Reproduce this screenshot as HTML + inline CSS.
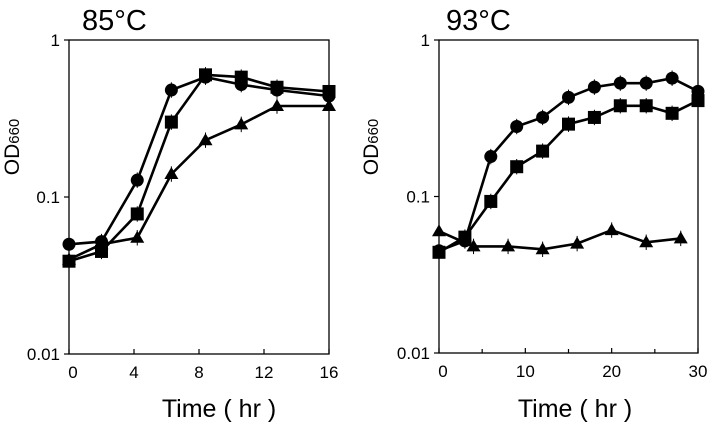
<!DOCTYPE html>
<html><head><meta charset="utf-8">
<style>
html,body{margin:0;padding:0;background:#fff;}
svg text{font-family:"Liberation Sans",Arial,sans-serif;fill:#000;}
</style></head>
<body>
<svg id="chart" width="708" height="429" xmlns="http://www.w3.org/2000/svg"></svg>
<script>
// Left panel (85°C) data
const leftTimes = [0, 2, 4.2, 6.3, 8.4, 10.6, 12.8, 16];
const leftCircle = [0.05, 0.052, 0.128, 0.48, 0.58, 0.52, 0.48, 0.44];
const leftSquare = [0.039, 0.045, 0.078, 0.30, 0.60, 0.58, 0.50, 0.47];
const leftTriangle = [0.04, 0.05, 0.055, 0.14, 0.23, 0.29, 0.38, 0.38];
const leftXTicks = [0, 4, 8, 12, 16];
// Right panel (93°C) data
const rightTimesA = [0, 3, 6, 9, 12, 15, 18, 21, 24, 27, 30];
const rightCircle = [0.045, 0.052, 0.18, 0.28, 0.32, 0.43, 0.50, 0.53, 0.53, 0.57, 0.47];
const rightSquare = [0.044, 0.055, 0.093, 0.155, 0.195, 0.29, 0.32, 0.38, 0.38, 0.34, 0.41];
const rightTimesT = [0, 4, 8, 12, 16, 20, 24, 28];
const rightTriangle = [0.06, 0.048, 0.048, 0.046, 0.05, 0.061, 0.051, 0.054];
const rightXTicks = [0, 10, 20, 30];
const yTicks = [1, 0.1, 0.01];
const yTickLabels = ["1", "0.1", "0.01"];

const NS = "http://www.w3.org/2000/svg";
const svg = document.getElementById("chart");
function mk(tag, attrs, parent) {
  const e = document.createElementNS(NS, tag);
  for (const k in attrs) e.setAttribute(k, attrs[k]);
  (parent || svg).appendChild(e);
  return e;
}

function panel(cfg) {
  const g = mk("g", {});
  
  
  const x = t => cfg.x0 + (t - cfg.xmin) / (cfg.xmax - cfg.xmin) * (cfg.x1 - cfg.x0);
  const y = v => cfg.y0 + (0 - Math.log10(v)) / 2 * (cfg.y1 - cfg.y0);
  const fr = mk("rect", {x: cfg.x0, y: cfg.y0, width: cfg.x1 - cfg.x0, height: cfg.y1 - cfg.y0, fill: "none", stroke: "#000", "stroke-width": 1.3}, g);
  
  
  yTicks.forEach((v, i) => {
    mk("line", {x1: cfg.x0 - 5, x2: cfg.x0, y1: y(v), y2: y(v), stroke: "#000", "stroke-width": 1.2}, g);
    const t = mk("text", {x: cfg.x0 - 9, y: y(v) + 6, "text-anchor": "end", "font-size": 17}, g);
    t.textContent = yTickLabels[i];
    
    
  });
  cfg.xticks.forEach(v => {
    mk("line", {x1: x(v), x2: x(v), y1: cfg.y1 - 5, y2: cfg.y1, stroke: "#000", "stroke-width": 1.2}, g);
    const t = mk("text", {x: x(v) + (v === cfg.xmin ? 4 : 0), y: cfg.y1 + 24, "text-anchor": "middle", "font-size": 17}, g);
    t.textContent = v;
    
    
  });
  (cfg.minor || []).forEach(v => {
    mk("line", {x1: x(v), x2: x(v), y1: cfg.y1 - 4, y2: cfg.y1, stroke: "#000", "stroke-width": 1.2}, g);
  });
  cfg.series.forEach(s => {
    const sg = mk("g", {}, g);
    
    
    const pts = s.t.map((t, i) => x(t).toFixed(1) + "," + y(s.v[i]).toFixed(1)).join(" ");
    mk("polyline", {points: pts, fill: "none", stroke: "#000", "stroke-width": 2.6}, sg);
    s.t.forEach((t, i) => {
      const cx = x(t), cy = y(s.v[i]);
      mk("line", {x1: cx, x2: cx, y1: y(s.v[i] * 1.12), y2: y(s.v[i] / 1.12), stroke: "#000", "stroke-width": 1}, sg);
      let m;
      if (s.shape === "circle") m = mk("circle", {cx: cx, cy: cy, r: 6.5, fill: "#000"}, sg);
      else if (s.shape === "square") m = mk("rect", {x: cx - 6.5, y: cy - 6.5, width: 13, height: 13, fill: "#000"}, sg);
      else m = mk("polygon", {points: `${cx},${cy-7} ${cx+7},${cy+5} ${cx-7},${cy+5}`, fill: "#000"}, sg);
      
      
    });
  });
  const tt = mk("text", {x: cfg.titleX, y: 30, "font-size": 29}, g);
  tt.textContent = cfg.title;
  
  
  const yl = mk("text", {x: 0, y: 0, "font-size": 21, transform: `translate(${cfg.ylabX},147) rotate(-90)`, "text-anchor": "middle"}, g);
  yl.innerHTML = 'OD<tspan font-size="15">660</tspan>';
  
  
  const xl = mk("text", {x: cfg.xlabX, y: 417, "font-size": 25, "text-anchor": "middle"}, g);
  xl.textContent = "Time ( hr )";
  
  
}

panel({name: "panel-85c", title: "85°C", titleX: 82, ylabX: 19, xlabX: 219,
  x0: 69, x1: 329, y0: 40, y1: 354, xmin: 0, xmax: 16, xticks: leftXTicks,
  series: [
    {name: "series-triangle", shape: "tri", t: leftTimes, v: leftTriangle},
    {name: "series-circle", shape: "circle", t: leftTimes, v: leftCircle},
    {name: "series-square", shape: "square", t: leftTimes, v: leftSquare}
  ]});
panel({name: "panel-93c", title: "93°C", titleX: 446, ylabX: 378, xlabX: 575,
  x0: 439, x1: 698, y0: 40, y1: 353, xmin: 0, xmax: 30, xticks: rightXTicks, minor: [5, 15, 25],
  series: [
    {name: "series-triangle", shape: "tri", t: rightTimesT, v: rightTriangle},
    {name: "series-circle", shape: "circle", t: rightTimesA, v: rightCircle},
    {name: "series-square", shape: "square", t: rightTimesA, v: rightSquare}
  ]});
</script>
</body></html>
